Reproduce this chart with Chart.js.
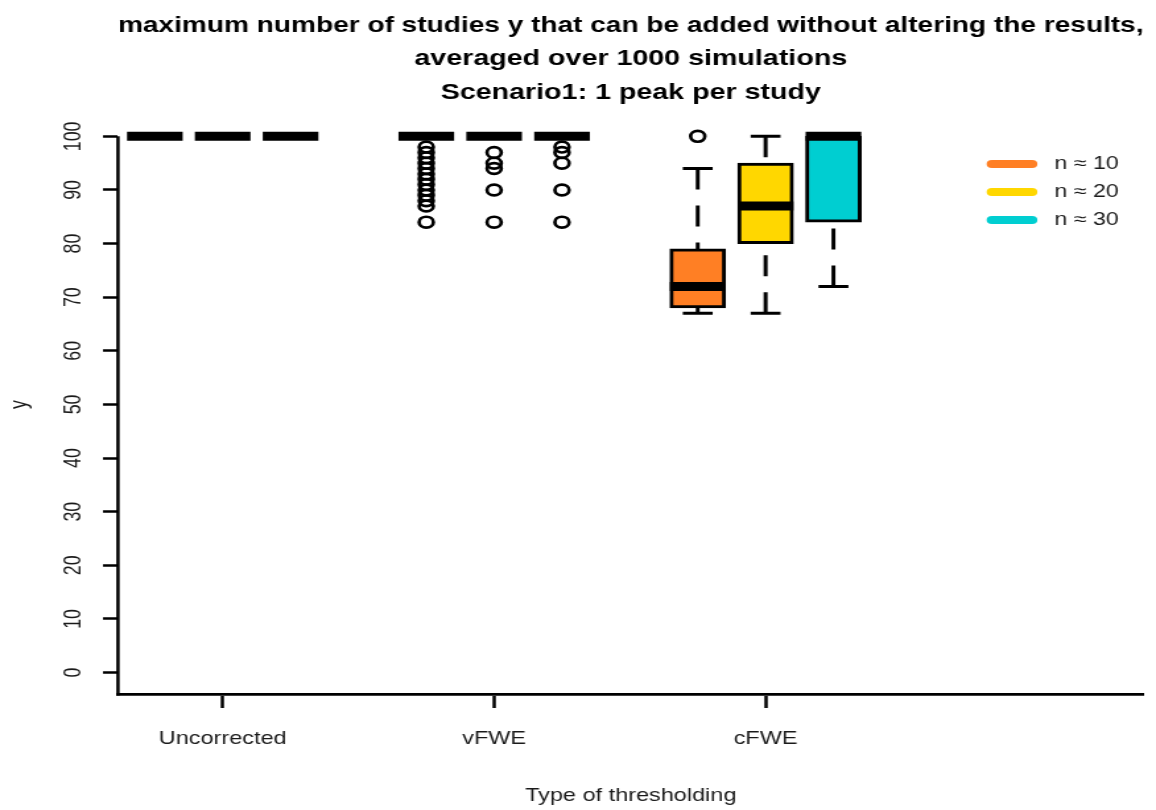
<!DOCTYPE html>
<html>
<head>
<meta charset="utf-8">
<script src="https://cdn.jsdelivr.net/npm/chart.js@4.4.1/dist/chart.umd.min.js"></script>
<style>
  html, body { margin: 0; padding: 0; background: #fff; overflow: hidden; }
  /* the reference is stretched sideways, so the chart is drawn narrower and scaled */
  #wrap { width: 876px; height: 810px; transform: scaleX(1.3196); transform-origin: 0 0; }
</style>
</head>
<body>
<div id="wrap"><canvas id="boxChart"></canvas></div>
<script>
// categories on the x axis and where they sit
const groups = ['Uncorrected', 'vFWE', 'cFWE'];
const groupPos = [2, 6, 10];

// three boxes per group (n ~ 10, 20, 30)
const seriesLabels = ['n \u2248 10', 'n \u2248 20', 'n \u2248 30'];
const seriesColors = ['#FF7F24', '#FFD700', '#00CED1'];
const boxPos = [1, 2, 3, 5, 6, 7, 9, 10, 11];

// box statistics, one entry per box
const lowWhisker = [100, 100, 100, 100, 100, 100, 67, 67, 72];
const q1         = [100, 100, 100, 100, 100, 100, 68, 80, 84];
const median     = [100, 100, 100, 100, 100, 100, 72, 87, 100];
const q3         = [100, 100, 100, 100, 100, 100, 79, 95, 100];
const highWhisker= [100, 100, 100, 100, 100, 100, 94, 100, 100];
const outliers = [
  [], [], [],
  [98, 97, 96, 95, 94, 93, 92, 91, 90, 89, 88, 87, 84],
  [97, 95, 94, 90, 84],
  [98, 97, 95, 90, 84],
  [100], [], []
];

const yTicks = [0, 10, 20, 30, 40, 50, 60, 70, 80, 90, 100];

const FONT = '"Liberation Sans", Arial, Helvetica, sans-serif';
const BOX_HALF = 0.41;
const CAP_HALF = 0.22;

// build the datasets from the arrays above
const boxData = boxPos.map((p, i) => ({ x: p, y: [q1[i], q3[i]] }));
const boxColors = boxPos.map((p, i) => seriesColors[i % 3]);

const medianData = [];
const capData = [];
const whiskerData = [];
boxPos.forEach((p, i) => {
  medianData.push({ x: p - BOX_HALF, y: median[i] }, { x: p + BOX_HALF, y: median[i] }, { x: p, y: null });
  capData.push({ x: p - CAP_HALF, y: highWhisker[i] }, { x: p + CAP_HALF, y: highWhisker[i] }, { x: p, y: null });
  capData.push({ x: p - CAP_HALF, y: lowWhisker[i] }, { x: p + CAP_HALF, y: lowWhisker[i] }, { x: p, y: null });
  whiskerData.push({ x: p, y: highWhisker[i] }, { x: p, y: q3[i] }, { x: p, y: null });
  whiskerData.push({ x: p, y: lowWhisker[i] }, { x: p, y: q1[i] }, { x: p, y: null });
});
const outlierData = [];
boxPos.forEach((p, i) => outliers[i].forEach(v => outlierData.push({ x: p, y: v })));

// y axis line only runs up to the last tick, plus the legend
const extras = {
  id: 'extras',
  beforeDatasetsDraw(chart) {
    const ctx = chart.ctx;
    const a = chart.chartArea;
    const yScale = chart.scales.y;
    ctx.save();
    ctx.strokeStyle = '#000';
    ctx.lineWidth = 2.5;
    ctx.beginPath();
    ctx.moveTo(a.left, yScale.getPixelForValue(100));
    ctx.lineTo(a.left, a.bottom + 1.4);
    ctx.stroke();
    ctx.restore();
  },
  afterDraw(chart) {
    const ctx = chart.ctx;
    ctx.save();
    ctx.font = '17.6px ' + FONT;
    ctx.textBaseline = 'middle';
    seriesLabels.forEach((lab, i) => {
      const y = 164 + i * 28;
      ctx.strokeStyle = seriesColors[i];
      ctx.lineWidth = 8;
      ctx.lineCap = 'round';
      ctx.beginPath();
      ctx.moveTo(751.7, y);
      ctx.lineTo(782.1, y);
      ctx.stroke();
      ctx.fillStyle = '#1a1a1a';
      ctx.fillText(lab, 799, y);
    });
    ctx.restore();
  }
};

new Chart(document.getElementById('boxChart'), {
  type: 'bar',
  data: {
    datasets: [
      {
        type: 'line', label: 'median', data: medianData,
        borderColor: '#000', borderWidth: 9, borderCapStyle: 'butt',
        pointRadius: 0, spanGaps: false, fill: false
      },
      {
        type: 'bar', label: 'box', data: boxData,
        backgroundColor: boxColors, borderColor: '#000', borderWidth: 3,
        borderSkipped: false, barThickness: 42.2, grouped: false
      },
      {
        type: 'line', label: 'caps', data: capData,
        borderColor: '#000', borderWidth: 3, borderCapStyle: 'butt',
        pointRadius: 0, spanGaps: false, fill: false
      },
      {
        type: 'line', label: 'whiskers', data: whiskerData,
        borderColor: '#000', borderWidth: 3, borderDash: [21, 16], borderCapStyle: 'butt',
        pointRadius: 0, spanGaps: false, fill: false
      },
      {
        type: 'scatter', label: 'outliers', data: outlierData,
        pointStyle: 'circle', pointRadius: 5.4, borderColor: '#000', borderWidth: 2.7,
        backgroundColor: 'rgba(0,0,0,0)', showLine: false
      }
    ]
  },
  options: {
    responsive: true,
    maintainAspectRatio: false,
    animation: false,
    layout: { padding: { left: 0, right: 9.4, top: 0, bottom: 0 } },
    plugins: {
      legend: { display: false },
      tooltip: { enabled: false },
      title: {
        display: true,
        fullSize: false,
        text: [
          'maximum number of studies y that can be added without altering the results,',
          'averaged over 1000 simulations',
          'Scenario1: 1 peak per study'
        ],
        color: '#000',
        font: { family: FONT, size: 21.7, weight: 'bold', lineHeight: 1.55 },
        padding: { top: 9, bottom: 5 }
      }
    },
    scales: {
      x: {
        type: 'linear', min: 0.457, max: 15.57, offset: false,
        afterBuildTicks: s => { s.ticks = groupPos.map(v => ({ value: v })); },
        afterFit: s => { s.height = 116; },
        ticks: {
          callback: (v, i) => groups[i],
          font: { family: FONT, size: 17.8 }, color: '#1a1a1a',
          padding: 20, autoSkip: false, maxRotation: 0
        },
        grid: {
          drawOnChartArea: false, drawTicks: true, tickLength: 14,
          tickColor: '#000', tickWidth: 2.5, offset: false
        },
        border: { display: true, color: '#000', width: 2.8 },
        title: {
          display: true, text: 'Type of thresholding',
          font: { family: FONT, size: 17.8 }, color: '#1a1a1a',
          padding: { top: 0, bottom: 3 }
        }
      },
      y: {
        type: 'linear', min: -4, max: 104,
        afterBuildTicks: s => { s.ticks = yTicks.map(v => ({ value: v })); },
        afterFit: s => { s.width = 89.4; },
        ticks: {
          minRotation: 90, maxRotation: 90, crossAlign: 'center', padding: 7,
          font: { family: FONT, size: 17.8 }, color: '#1a1a1a'
        },
        grid: {
          drawOnChartArea: false, drawTicks: true, tickLength: 11.4,
          tickColor: '#000', tickWidth: 2.5
        },
        border: { display: false },
        title: {
          display: true, text: 'y',
          font: { family: FONT, size: 17.8 }, color: '#1a1a1a',
          padding: { top: 4.5, bottom: 0 }
        }
      }
    }
  },
  plugins: [extras]
});
</script>
</body>
</html>
